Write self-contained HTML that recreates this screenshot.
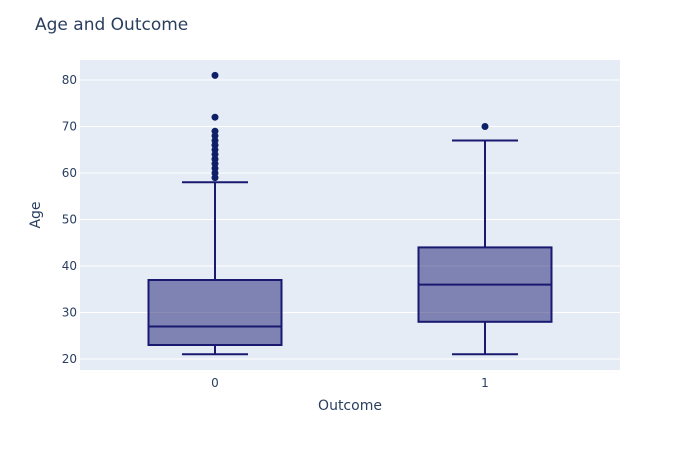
<!DOCTYPE html>
<html><head><meta charset="utf-8"><style>
html,body{margin:0;padding:0;background:#fff;}
text{font-family:"DejaVu Sans",sans-serif;}
</style></head><body>
<svg width="700" height="450" xmlns="http://www.w3.org/2000/svg">
<rect width="700" height="450" fill="#fff"/>
<rect x="80" y="60" width="540" height="310" fill="#e5ecf6"/>
<g stroke="#fff" stroke-width="1">
<line x1="80" x2="620" y1="80" y2="80"/>
<line x1="80" x2="620" y1="126.5" y2="126.5"/>
<line x1="80" x2="620" y1="173" y2="173"/>
<line x1="80" x2="620" y1="219.5" y2="219.5"/>
<line x1="80" x2="620" y1="266" y2="266"/>
<line x1="80" x2="620" y1="312.5" y2="312.5"/>
<line x1="80" x2="620" y1="359" y2="359"/>
</g>
<g font-size="12" fill="#2a3f5f" text-anchor="end">
<text x="77" y="84">80</text>
<text x="77" y="130.5">70</text>
<text x="77" y="177">60</text>
<text x="77" y="223.5">50</text>
<text x="77" y="270">40</text>
<text x="77" y="316.5">30</text>
<text x="77" y="363">20</text>
</g>
<g font-size="12" fill="#2a3f5f" text-anchor="middle">
<text x="215" y="387">0</text>
<text x="485" y="387">1</text>
</g>
<text x="350" y="410" font-size="14" fill="#2a3f5f" text-anchor="middle">Outcome</text>
<text transform="translate(40,215) rotate(-90)" font-size="14" fill="#2a3f5f" text-anchor="middle">Age</text>
<text x="35" y="30" font-size="17" fill="#2a3f5f">Age and Outcome</text>
<g stroke="#191970" stroke-width="2" fill="rgba(25,25,112,0.5)">
<rect x="148.5" y="280" width="133" height="65"/>
<line x1="148.5" x2="281.5" y1="326.5" y2="326.5"/>
<line x1="215" x2="215" y1="280" y2="182.3"/>
<line x1="215" x2="215" y1="345" y2="354.3"/>
<line x1="182" x2="248" y1="182.3" y2="182.3"/>
<line x1="182" x2="248" y1="354.3" y2="354.3"/>
<rect x="418.5" y="247.4" width="133" height="74.4"/>
<line x1="418.5" x2="551.5" y1="284.6" y2="284.6"/>
<line x1="485" x2="485" y1="247.4" y2="140.5"/>
<line x1="485" x2="485" y1="321.8" y2="354.3"/>
<line x1="452" x2="518" y1="140.5" y2="140.5"/>
<line x1="452" x2="518" y1="354.3" y2="354.3"/>
</g>
<g fill="#0d1f66">
<circle cx="215" cy="75.4" r="3.5"/>
<circle cx="215" cy="117.2" r="3.5"/>
<circle cx="215" cy="131.2" r="3.5"/>
<circle cx="215" cy="135.8" r="3.5"/>
<circle cx="215" cy="140.5" r="3.5"/>
<circle cx="215" cy="145.1" r="3.5"/>
<circle cx="215" cy="149.8" r="3.5"/>
<circle cx="215" cy="154.4" r="3.5"/>
<circle cx="215" cy="159.1" r="3.5"/>
<circle cx="215" cy="163.7" r="3.5"/>
<circle cx="215" cy="168.4" r="3.5"/>
<circle cx="215" cy="173" r="3.5"/>
<circle cx="215" cy="177.7" r="3.5"/>
<circle cx="485" cy="126.5" r="3.5"/>
</g>
</svg>
</body></html>
